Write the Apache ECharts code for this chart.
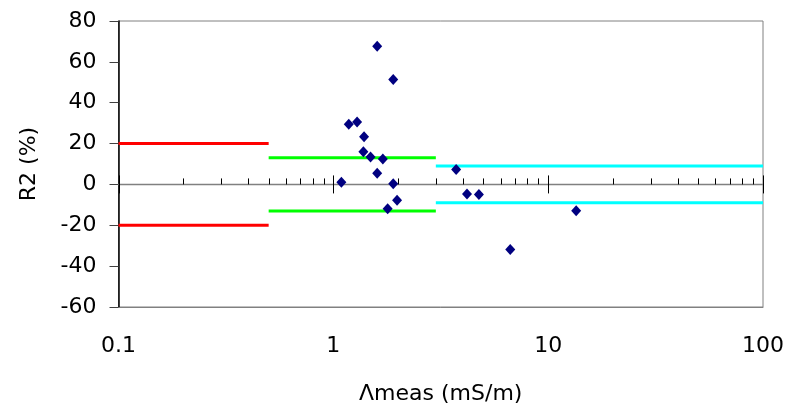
<!DOCTYPE html>
<html>
<head>
<meta charset="utf-8">
<script src="https://cdn.jsdelivr.net/npm/echarts@6/dist/echarts.min.js"></script>
<style>
html,body{margin:0;padding:0;background:#fff;}
#chart{width:791px;height:415px;}
</style>
</head>
<body>
<div id="chart"></div>
<script>
// Measured conductivity (mS/m) and R2 (%)
const lambdaMeas = [1.60, 1.90, 1.18, 1.29, 1.39, 1.38, 1.49, 1.70, 1.60, 1.09, 1.90, 1.98, 1.79, 3.73, 4.19, 4.76, 13.5, 6.66];
const r2Values   = [67.7, 51.4, 29.5, 30.5, 23.3, 16.0, 13.4, 12.5, 5.5, 1.1, 0.3, -7.8, -11.9, 7.3, -4.7, -4.9, -12.9, -31.8];

// Limit bands: x-ranges and +/- levels
const bandStart = [0.1, 0.5, 3];
const bandEnd   = [0.5, 3, 100];
const bandLevel = [20, 13, 9];
const bandColor = ['#ff0000', '#00ff00', '#00ffff'];

// Zero reference line
const zeroLineX = [0.1, 100];

// Axis ticks
const xMajorTicks = [0.1, 1, 10, 100];
const xMinorTicks = [0.2,0.3,0.4,0.5,0.6,0.7,0.8,0.9, 2,3,4,5,6,7,8,9, 20,30,40,50,60,70,80,90];
const yTicks = [-60, -40, -20, 0, 20, 40, 60, 80];

const FONT = 'DejaVu Sans';
const FS = 22;

const series = [];

series.push({
  type: 'line',
  data: zeroLineX.map(x => [x, 0]),
  symbol: 'none',
  lineStyle: { color: '#808080', width: 1.5 },
  silent: true,
  animation: false,
  z: 2
});

bandStart.forEach((s, i) => {
  [bandLevel[i], -bandLevel[i]].forEach(lv => {
    series.push({
      type: 'line',
      data: [[s, lv], [bandEnd[i], lv]],
      symbol: 'none',
      lineStyle: { color: bandColor[i], width: 3 },
      silent: true,
      animation: false,
      z: 3
    });
  });
});

const tickData = xMajorTicks.map(v => [v, 1]).concat(xMinorTicks.map(v => [v, 0]));
series.push({
  type: 'custom',
  data: tickData,
  renderItem: function (params, api) {
    const p = api.coord([api.value(0), 0]);
    const major = api.value(1) === 1;
    const up = major ? 9 : 6;
    const down = major ? 9 : 0;
    const x = Math.round(p[0]) + 0.5;
    return {
      type: 'line',
      shape: { x1: x, y1: p[1] - up, x2: x, y2: p[1] + down },
      style: { stroke: '#000', lineWidth: 1 }
    };
  },
  silent: true,
  animation: false,
  z: 4
});

series.push({
  type: 'scatter',
  data: lambdaMeas.map((x, i) => [x, r2Values[i]]),
  symbol: 'diamond',
  symbolSize: [10, 11],
  itemStyle: { color: '#000080', opacity: 1 },
  animation: false,
  z: 5
});

const chart = echarts.init(document.getElementById('chart'), null, { renderer: 'canvas' });
chart.setOption({
  backgroundColor: '#fff',
  animation: false,
  grid: {
    left: 118.5, right: 28, top: 21, bottom: 108,
    show: true, borderColor: '#808080', borderWidth: 1, backgroundColor: 'transparent'
  },
  xAxis: {
    type: 'log', logBase: 10, min: 0.1, max: 100,
    position: 'bottom',
    name: 'Λmeas (mS/m)', nameLocation: 'middle', nameGap: 76,
    nameTextStyle: { fontFamily: FONT, fontSize: FS, color: '#000' },
    axisLine: { show: true, onZero: false, lineStyle: { color: '#808080', width: 1 } },
    axisTick: { show: false },
    splitLine: { show: false },
    minorTick: { show: false },
    axisLabel: { fontFamily: FONT, fontSize: FS, color: '#000', margin: 28,
      formatter: v => String(v) }
  },
  yAxis: {
    type: 'value', min: -60, max: 80, interval: 20,
    name: 'R2 (%)', nameLocation: 'middle', nameGap: 78, nameRotate: 90,
    nameTextStyle: { fontFamily: FONT, fontSize: FS, color: '#000' },
    axisLine: { show: true, onZero: false, lineStyle: { color: '#000', width: 1.5 } },
    axisTick: { show: true, inside: false, length: 9, lineStyle: { color: '#404040', width: 1 } },
    splitLine: { show: false },
    axisLabel: { fontFamily: FONT, fontSize: FS, color: '#000', margin: 22,
      customValues: yTicks }
  },
  series: series
});
</script>
</body>
</html>
